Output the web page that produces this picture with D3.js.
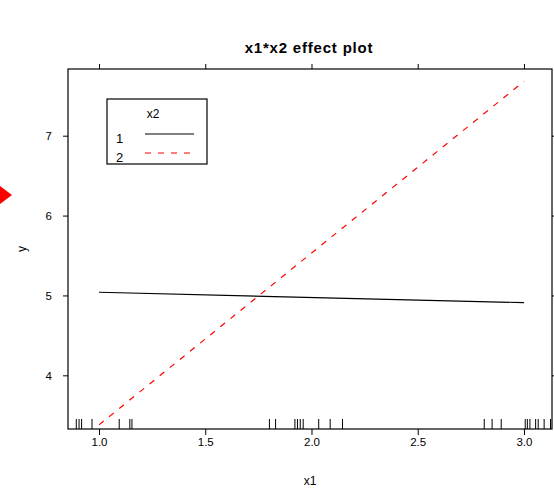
<!DOCTYPE html>
<html>
<head>
<meta charset="utf-8">
<script src="https://cdn.jsdelivr.net/npm/d3@7"></script>
<style>
  body { margin: 0; background: #fff; }
  text { font-family: "Liberation Sans", Arial, sans-serif; }
</style>
</head>
<body>
<div id="chart"></div>
<script>
'use strict'

////////////////////////////////////
////////////// data ////////////////
////////////////////////////////////

// effect lines at the two ends of x1, one per level of x2
const levels = ['1', '2']
const lineX = [1, 3]
const lineY1 = [5.04, 4.91]
const lineY2 = [3.38, 7.68]

// rug of observed x1 values
const rugX = [0.893, 0.906, 0.918, 0.967, 1.095, 1.145, 1.155,
    1.802, 1.831, 1.922, 1.934, 1.947, 1.961, 2.034, 2.088, 2.146,
    2.813, 2.850, 2.893, 3.006, 3.016, 3.028, 3.055, 3.067, 3.095, 3.125]

const xTicks = [1.0, 1.5, 2.0, 2.5, 3.0]
const yTicks = [4, 5, 6, 7]
const xLimits = [0.854, 3.132]
const yLimits = [3.328, 7.835]

////////////////////////////////////
//////////// svg setup /////////////
////////////////////////////////////

const svgWidth = 554
const svgHeight = 489
const margin = { left: 68, right: 2, top: 69, bottom: 60 }
const width = svgWidth - margin.left - margin.right
const height = svgHeight - margin.top - margin.bottom

const root = d3.select('#chart')
    .append('svg')
    .attr('width', svgWidth)
    .attr('height', svgHeight)

const svg = root.append('g')
    .attr('transform', `translate(${margin.left},${margin.top})`)

const x = d3.scaleLinear().domain(xLimits).range([0, width])
const y = d3.scaleLinear().domain(yLimits).range([height, 0])

////////////////////////////////////
////////////// axes ////////////////
////////////////////////////////////

const styleAxis = g => {
    g.select('.domain').remove()
    g.selectAll('line').attr('stroke', '#000')
    g.selectAll('text').attr('fill', '#000').style('font-size', '11.5px')
}

svg.append('g')
    .attr('transform', `translate(0,${height})`)
    .call(d3.axisBottom(x).tickValues(xTicks).tickFormat(d3.format('.1f')).tickSize(6).tickPadding(3))
    .call(styleAxis)

svg.append('g')
    .call(d3.axisTop(x).tickValues(xTicks).tickFormat('').tickSize(5))
    .call(styleAxis)

svg.append('g')
    .call(d3.axisLeft(y).tickValues(yTicks).tickFormat(d3.format('d')).tickSize(5).tickPadding(11))
    .call(styleAxis)

svg.append('g')
    .attr('transform', `translate(${width},0)`)
    .call(d3.axisRight(y).tickValues(yTicks).tickFormat('').tickSize(5))
    .call(styleAxis)

svg.append('rect')
    .attr('width', width)
    .attr('height', height)
    .attr('fill', 'none')
    .attr('stroke', '#000')
    .attr('stroke-width', 1.2)

////////////////////////////////////
////////////// marks ///////////////
////////////////////////////////////

svg.append('g')
    .selectAll('line')
    .data(rugX)
    .join('line')
    .attr('x1', d => x(d))
    .attr('x2', d => x(d))
    .attr('y1', height)
    .attr('y2', height - 10)
    .attr('stroke', '#000')

const line = d3.line()
    .x(d => x(d[0]))
    .y(d => y(d[1]))

const series = [
    { level: levels[0], values: d3.zip(lineX, lineY1), color: '#000', dash: null },
    { level: levels[1], values: d3.zip(lineX, lineY2), color: '#ff0000', dash: '6,7' }
]

svg.append('g')
    .selectAll('path')
    .data(series)
    .join('path')
    .attr('d', d => line(d.values))
    .attr('fill', 'none')
    .attr('stroke', d => d.color)
    .attr('stroke-width', 1.2)
    .attr('stroke-dasharray', d => d.dash)

////////////////////////////////////
///////////// legend ///////////////
////////////////////////////////////

const legend = root.append('g').attr('transform', 'translate(107,99)')

legend.append('rect')
    .attr('width', 100)
    .attr('height', 65)
    .attr('fill', '#fff')
    .attr('stroke', '#000')
    .attr('stroke-width', 1.2)

legend.append('text')
    .attr('x', 46)
    .attr('y', 19)
    .attr('text-anchor', 'middle')
    .style('font-size', '12px')
    .text('x2')

const item = legend.selectAll('.item')
    .data(series)
    .join('g')
    .attr('class', 'item')
    .attr('transform', (d, i) => `translate(0,${35 + i * 19})`)

item.append('text')
    .attr('x', 9)
    .attr('y', 9)
    .style('font-size', '13px')
    .text(d => d.level)

item.append('line')
    .attr('x1', 38)
    .attr('x2', 87)
    .attr('y1', 0)
    .attr('y2', 0)
    .attr('stroke', d => d.color)
    .attr('stroke-width', 1.2)
    .attr('stroke-dasharray', d => d.dash)

////////////////////////////////////
///////////// labels ///////////////
////////////////////////////////////

root.append('text')
    .attr('x', 309)
    .attr('y', 53)
    .attr('text-anchor', 'middle')
    .style('font-size', '15px')
    .style('font-weight', 'bold')
    .style('letter-spacing', '0.8px')
    .text('x1*x2  effect plot')

root.append('text')
    .attr('x', 310)
    .attr('y', 485)
    .attr('text-anchor', 'middle')
    .style('font-size', '12px')
    .text('x1')

root.append('text')
    .attr('transform', 'translate(26,249) rotate(-90)')
    .attr('text-anchor', 'middle')
    .style('font-size', '12px')
    .text('y')

// red pointer at the left edge
root.append('path')
    .attr('d', d3.line()([[0, 186], [12, 195], [0, 204]]) + 'Z')
    .attr('fill', '#ff0000')
</script>
</body>
</html>
